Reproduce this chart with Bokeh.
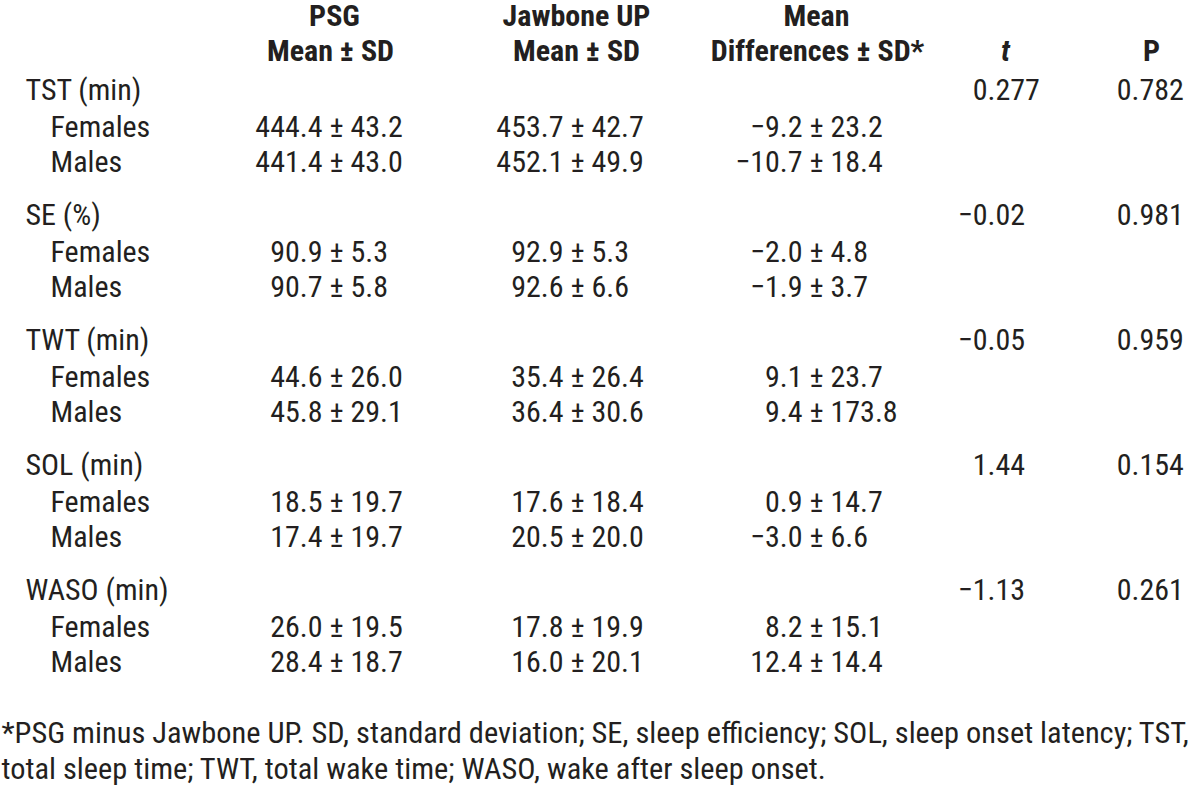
from bokeh.plotting import figure
from bokeh.models import ColumnDataSource, Range1d
from bokeh.core.properties import value
from bokeh.embed import file_html
from bokeh.resources import INLINE

# ---------------- data ----------------
measures = ["TST (min)", "SE (%)", "TWT (min)", "SOL (min)", "WASO (min)"]
groups = ["Females", "Males"]
psg_mean = [444.4, 441.4, 90.9, 90.7, 44.6, 45.8, 18.5, 17.4, 26.0, 28.4]
psg_sd = [43.2, 43.0, 5.3, 5.8, 26.0, 29.1, 19.7, 19.7, 19.5, 18.7]
jaw_mean = [453.7, 452.1, 92.9, 92.6, 35.4, 36.4, 17.6, 20.5, 17.8, 16.0]
jaw_sd = [42.7, 49.9, 5.3, 6.6, 26.4, 30.6, 18.4, 20.0, 19.9, 20.1]
diff_mean = [-9.2, -10.7, -2.0, -1.9, 9.1, 9.4, 0.9, -3.0, 8.2, 12.4]
diff_sd = [23.2, 18.4, 4.8, 3.7, 23.7, 173.8, 14.7, 6.6, 15.1, 14.4]
t_vals = ["0.277", "\u22120.02", "\u22120.05", "1.44", "\u22121.13"]
p_vals = ["0.782", "0.981", "0.959", "0.154", "0.261"]
header_top = ["PSG", "Jawbone UP", "Mean"]
header_bottom = ["Mean \u00b1 SD", "Mean \u00b1 SD", "Differences \u00b1 SD*"]
footnote = [
    "*PSG minus Jawbone UP. SD, standard deviation; SE, sleep efficiency; SOL, sleep onset latency; TST,",
    "total sleep time; TWT, total wake time; WASO, wake after sleep onset.",
]

# ---------------- layout ----------------
FONT = "Roboto Condensed"
FS = "30px"
INK = "#231f20"
W, H = 1200, 794

p = figure(width=W, height=H, output_backend="svg", toolbar_location=None,
           x_range=Range1d(0, W), y_range=Range1d(H, 0),
           min_border=0, outline_line_color=None)
p.axis.visible = False
p.grid.visible = False
p.background_fill_color = "white"
p.border_fill_color = "white"


def fmt(v):
    return f"{v:.1f}".replace("-", "\u2212")


def txt(x, y, t, align="left", bold=False, italic=False, fs=FS):
    src = ColumnDataSource(dict(x=x, y=y, t=t))
    style = "bold italic" if (bold and italic) else ("bold" if bold else ("italic" if italic else "normal"))
    p.text(x="x", y="y", text="t", source=src, text_font=value(FONT),
           text_font_size=fs, text_font_style=style, text_color=INK,
           text_align=align, text_baseline="alphabetic")


# headers
txt([334, 576, 816], [15, 15, 15], header_top, align="center", bold=True)
txt([330, 576, 817], [50, 50, 50], header_bottom, align="center", bold=True)
txt([1005], [50], ["t"], align="center", bold=True, italic=True)
txt([1151], [50], ["P"], align="center", bold=True)

# row positions
cat_y = [89 + 125 * i for i in range(len(measures))]
sub_y = []
sub_lab = []
for cy in cat_y:
    sub_y += [cy + 37, cy + 72]
    sub_lab += groups

txt([25] * len(measures), cat_y, measures)
txt([50] * len(sub_lab), sub_y, sub_lab)

# mean +/- sd columns aligned on the +/- sign
for pm_x, means, sds in [(336, psg_mean, psg_sd), (577, jaw_mean, jaw_sd), (816, diff_mean, diff_sd)]:
    n = len(means)
    txt([pm_x - 14] * n, sub_y, [fmt(m) for m in means], align="right")
    txt([pm_x] * n, sub_y, ["\u00b1"] * n, align="center")
    txt([pm_x + 14] * n, sub_y, [fmt(s) for s in sds], align="left")

# t and P columns aligned on decimal point
for dec_x, vals in [(987, t_vals), (1131, p_vals)]:
    ints = [v.split(".")[0] for v in vals]
    fracs = ["." + v.split(".")[1] for v in vals]
    txt([dec_x] * len(vals), cat_y, ints, align="right")
    txt([dec_x] * len(vals), cat_y, fracs, align="left")

# footnote
txt([1, 1], [732, 768], footnote, fs="30.4px")

open("out.html", "w").write(file_html(p, INLINE))
